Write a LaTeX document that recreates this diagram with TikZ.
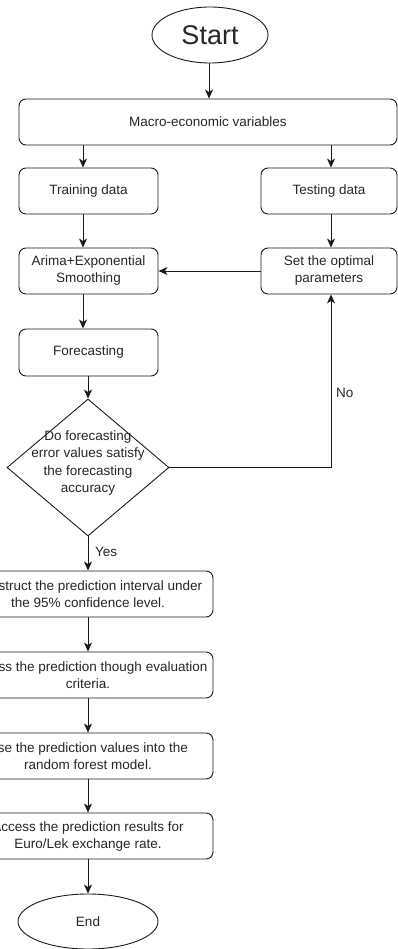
\documentclass[tikz,border=0pt]{standalone}
\usepackage{fontspec}
\setmainfont{Liberation Sans}
\usetikzlibrary{shapes.geometric,arrows.meta}
\definecolor{ln}{HTML}{1A1A1A}
\definecolor{tx}{HTML}{262626}
\tikzset{
  box/.style={draw=ln, line width=0.9pt, rounded corners=7pt, minimum height=46pt, inner sep=2pt, align=center, text=tx, font=\fontsize{13.5}{17}\selectfont},
  oval/.style={draw=ln, line width=0.9pt, ellipse, inner sep=0pt, text=tx},
  dia/.style={draw=ln, line width=0.9pt, diamond, inner sep=0pt, minimum width=162pt, minimum height=137pt},
  diatext/.style={align=center, text=tx, inner sep=0pt, font=\fontsize{13.5}{17.5}\selectfont},
  arr/.style={draw=ln, line width=0.9pt, -{Stealth[length=9pt,width=8pt,inset=2.5pt]}},
  lbl/.style={anchor=west, text=tx, font=\fontsize{13.5}{16}\selectfont, inner sep=0pt}
}
\begin{document}
\begin{tikzpicture}[x=1pt,y=-1pt]
\useasboundingbox (0,0) rectangle (398,949);
\clip (0,0) rectangle (398,949);
\node[oval, minimum width=116pt, minimum height=56pt, font=\fontsize{27}{30}\selectfont] (start) at (210,35) {Start};
\node[box, minimum width=378pt] (macro) at (208,122) {Macro-economic variables};
\node[box, minimum width=139pt] (train) at (88.5,191) {Training data};
\node[box, minimum width=136pt] (test) at (329,191) {Testing data};
\node[box, minimum width=139pt] (arima) at (88.5,271) {Arima+Exponential\\Smoothing};
\node[box, minimum width=136pt] (set) at (329,271) {Set the optimal\\parameters};
\node[box, minimum width=139pt, minimum height=47pt] (fore) at (88.5,352.5) {Forecasting};
\node[dia] (dec) at (88,467.5) {};
\node[diatext] (dectext) at (88,463) {Do forecasting\\error values satisfy\\the forecasting\\accuracy};
\node[box, minimum width=250pt] (c1) at (88,594) {Construct the prediction interval under\\the 95\% confidence level.};
\node[box, minimum width=250pt] (c2) at (88,675) {Assess the prediction though evaluation\\criteria.};
\node[box, minimum width=250pt] (c3) at (88,756) {Use the prediction values into the\\random forest model.};
\node[box, minimum width=250pt] (c4) at (88,836) {Access the prediction results for\\Euro/Lek exchange rate.};
\node[oval, minimum width=140pt, minimum height=55pt, font=\fontsize{13.5}{16}\selectfont] (end) at (88,921.5) {End};
\node[lbl] (no) at (336,393) {No};
\node[lbl] (yes) at (95,552) {Yes};

\draw[arr] ([xshift=-1pt]start.south) -- ([xshift=-1pt]start.south |- macro.north);
\draw[arr] ([xshift=-5.5pt]train.north |- macro.south) -- ([xshift=-5.5pt]train.north);
\draw[arr] ([xshift=2pt]test.north |- macro.south) -- ([xshift=2pt]test.north);
\draw[arr] ([xshift=-5.5pt]train.south) -- ([xshift=-5.5pt]arima.north);
\draw[arr] ([xshift=2pt]test.south) -- ([xshift=2pt]set.north);
\draw[arr] (set.west) -- (arima.east);
\draw[arr] ([xshift=-5.5pt]arima.south) -- ([xshift=-5.5pt]fore.north);
\draw[arr] (dec.north |- fore.south) -- (dec.north);
\draw[arr] (dec.east) -| ([xshift=2pt]set.south);
\draw[arr] (dec.south) -- (c1.north);
\draw[arr] (c1.south) -- (c2.north);
\draw[arr] (c2.south) -- (c3.north);
\draw[arr] (c3.south) -- (c4.north);
\draw[arr] (c4.south) -- (end.north);
\end{tikzpicture}
\end{document}
